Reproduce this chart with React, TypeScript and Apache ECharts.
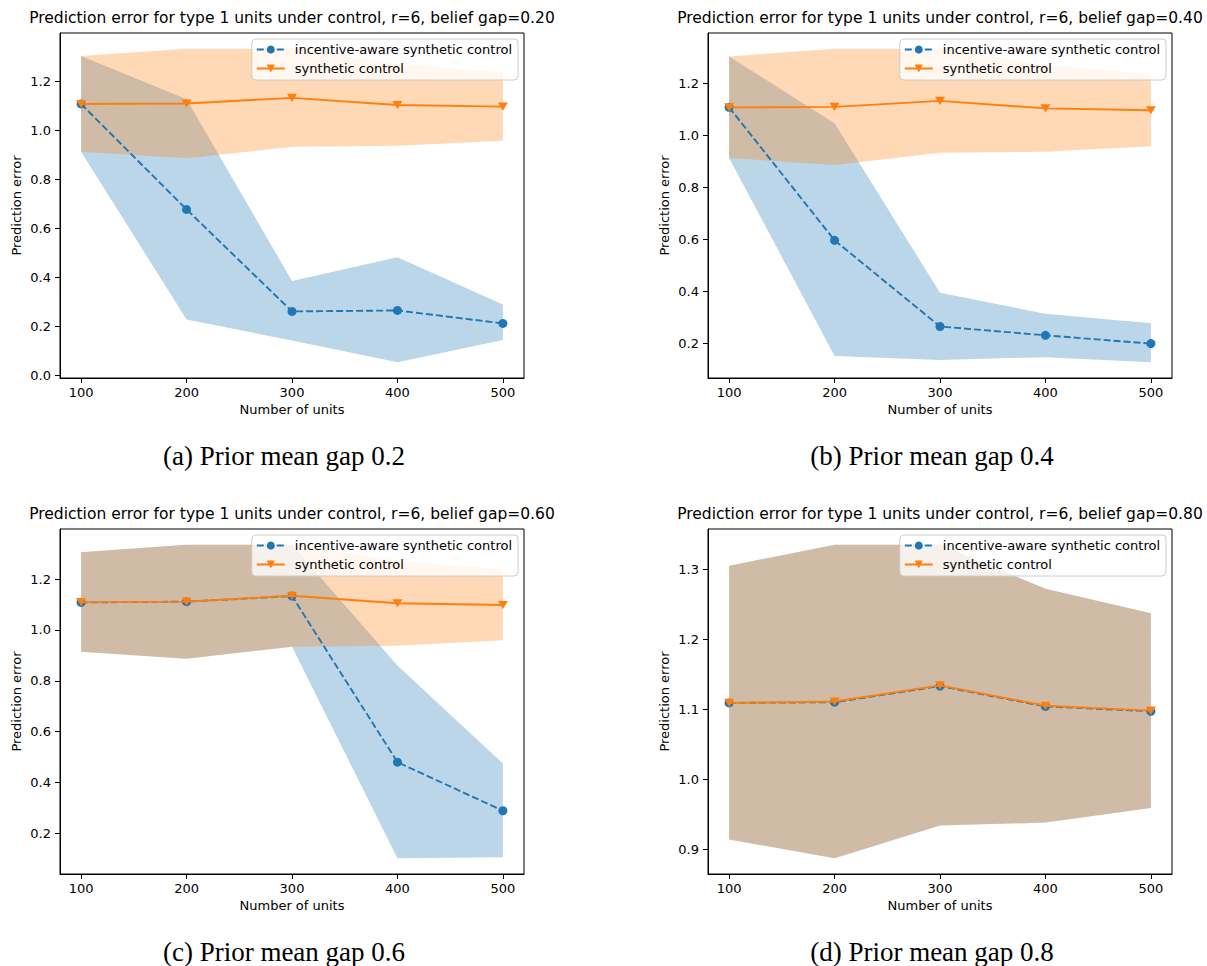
import React, { useEffect, useRef } from "react";
import * as echarts from "echarts";

const units = [100, 200, 300, 400, 500];
const xTicks = [100, 200, 300, 400, 500];

// synthetic control (same in all panels)
const scMean = [1.109, 1.111, 1.134, 1.105, 1.098];
const scLower = [0.914, 0.887, 0.934, 0.938, 0.959];
const scUpper = [1.305, 1.335, 1.335, 1.272, 1.237];

// incentive-aware synthetic control, per belief gap
const iaMeanA = [1.109, 0.678, 0.261, 0.265, 0.212];
const iaLowerA = [0.914, 0.228, 0.142, 0.053, 0.144];
const iaUpperA = [1.305, 1.128, 0.385, 0.482, 0.289];

const iaMeanB = [1.109, 0.597, 0.265, 0.231, 0.199];
const iaLowerB = [0.914, 0.151, 0.136, 0.147, 0.127];
const iaUpperB = [1.305, 1.048, 0.395, 0.314, 0.277];

const iaMeanC = [1.108, 1.111, 1.133, 0.48, 0.289];
const iaLowerC = [0.914, 0.887, 0.934, 0.102, 0.106];
const iaUpperC = [1.305, 1.335, 1.335, 0.86, 0.475];

const iaMeanD = [1.109, 1.110, 1.133, 1.104, 1.097];
const iaLowerD = [0.914, 0.887, 0.934, 0.938, 0.959];
const iaUpperD = [1.305, 1.335, 1.335, 1.272, 1.237];

const yTicksA = [0.0, 0.2, 0.4, 0.6, 0.8, 1.0, 1.2];
const yTicksB = [0.2, 0.4, 0.6, 0.8, 1.0, 1.2];
const yTicksC = [0.2, 0.4, 0.6, 0.8, 1.0, 1.2];
const yTicksD = [0.9, 1.0, 1.1, 1.2, 1.3];

const titles = [
  "Prediction error for type 1 units under control, r=6, belief gap=0.20",
  "Prediction error for type 1 units under control, r=6, belief gap=0.40",
  "Prediction error for type 1 units under control, r=6, belief gap=0.60",
  "Prediction error for type 1 units under control, r=6, belief gap=0.80",
];
const captions = [
  "(a) Prior mean gap 0.2",
  "(b) Prior mean gap 0.4",
  "(c) Prior mean gap 0.6",
  "(d) Prior mean gap 0.8",
];

const IA_NAME = "incentive-aware synthetic control";
const SC_NAME = "synthetic control";

const BLUE = "#1f77b4";
const ORANGE = "#ff7f0e";
const FONT = "DejaVu Sans";

const W = 1207;
const H = 966;

const panels = [
  { mean: iaMeanA, lower: iaLowerA, upper: iaUpperA, yTicks: yTicksA, dec: 1, left: 60, top: 33 },
  { mean: iaMeanB, lower: iaLowerB, upper: iaUpperB, yTicks: yTicksB, dec: 1, left: 708, top: 33 },
  { mean: iaMeanC, lower: iaLowerC, upper: iaUpperC, yTicks: yTicksC, dec: 1, left: 60, top: 529 },
  { mean: iaMeanD, lower: iaLowerD, upper: iaUpperD, yTicks: yTicksD, dec: 1, left: 708, top: 529 },
];
const GW = 464;
const GH = 345;

function bandSeries(gi: number, lower: number[], upper: number[], color: string) {
  return {
    type: "custom",
    xAxisIndex: gi,
    yAxisIndex: gi,
    silent: true,
    clip: true,
    data: units.map((u, i) => [u, lower[i], upper[i]]),
    encode: { x: 0, y: [1, 2] },
    renderItem: (params: any, api: any) => {
      if (params.dataIndex !== 0) return null;
      const top = units.map((u, i) => api.coord([u, upper[i]]));
      const bot = units.map((u, i) => api.coord([u, lower[i]])).reverse();
      return {
        type: "polygon",
        shape: { points: top.concat(bot) },
        style: { fill: color },
      };
    },
  };
}

const TRI = "path://M0,0 L10,0 L5,9 Z";

export default function App() {
  const ref = useRef<HTMLDivElement>(null);
  useEffect(() => {
    if (!ref.current) return;
    const chart = echarts.init(ref.current, undefined, { renderer: "svg" });
    const grids: any[] = [];
    const xAxes: any[] = [];
    const yAxes: any[] = [];
    const series: any[] = [];
    const legends: any[] = [];
    const graphics: any[] = [];

    panels.forEach((p, gi) => {
      const lo = Math.min(...p.lower, ...scLower);
      const hi = Math.max(...p.upper, ...scUpper);
      const span = hi - lo;
      const ymin = lo - 0.05 * span;
      const ymax = hi + 0.05 * span;
      grids.push({
        left: p.left,
        top: p.top,
        width: GW,
        height: GH,
        show: true,
        borderColor: "#000",
        borderWidth: 1,
        containLabel: false,
      });
      xAxes.push({
        type: "value",
        gridIndex: gi,
        min: 80,
        max: 520,
        splitLine: { show: false },
        axisLine: { show: true, onZero: false, lineStyle: { color: "#000", width: 1 } },
        axisTick: { show: true, customValues: xTicks, length: 5, lineStyle: { color: "#000" } },
        axisLabel: {
          customValues: xTicks,
          margin: 8,
          color: "#000",
          fontFamily: FONT,
          fontSize: 13,
        },
        name: "Number of units",
        nameLocation: "middle",
        nameGap: 25,
        nameTextStyle: { color: "#000", fontFamily: FONT, fontSize: 13 },
      });
      yAxes.push({
        type: "value",
        gridIndex: gi,
        min: ymin,
        max: ymax,
        splitLine: { show: false },
        axisLine: { show: true, onZero: false, lineStyle: { color: "#000", width: 1 } },
        axisTick: { show: true, customValues: p.yTicks, length: 5, lineStyle: { color: "#000" } },
        axisLabel: {
          customValues: p.yTicks,
          margin: 9,
          color: "#000",
          fontFamily: FONT,
          fontSize: 13,
          formatter: (v: number) => v.toFixed(p.dec),
        },
        name: "Prediction error",
        nameLocation: "middle",
        nameGap: 37,
        nameTextStyle: { color: "#000", fontFamily: FONT, fontSize: 13 },
      });

      series.push(bandSeries(gi, p.lower, p.upper, "rgba(31,119,180,0.3)"));
      series.push(bandSeries(gi, scLower, scUpper, "rgba(255,127,14,0.3)"));
      series.push({
        type: "line",
        name: IA_NAME,
        xAxisIndex: gi,
        yAxisIndex: gi,
        data: units.map((u, i) => [u, p.mean[i]]),
        symbol: "circle",
        symbolSize: 9,
        showSymbol: true,
        lineStyle: { color: BLUE, width: 1.9, type: [7, 3] },
        itemStyle: { color: BLUE },
        emphasis: { disabled: true },
        z: 3,
      });
      series.push({
        type: "line",
        name: SC_NAME,
        xAxisIndex: gi,
        yAxisIndex: gi,
        data: units.map((u, i) => [u, scMean[i]]),
        symbol: TRI,
        symbolSize: [10, 9],
        symbolKeepAspect: true,
        showSymbol: true,
        lineStyle: { color: ORANGE, width: 1.9, type: "solid" },
        itemStyle: { color: ORANGE },
        emphasis: { disabled: true },
        z: 4,
      });

      legends.push({
        data: [IA_NAME, SC_NAME],
        orient: "vertical",
        right: W - (p.left + GW - 6),
        top: p.top + 6,
        itemWidth: 28,
        itemHeight: 10,
        itemGap: 4,
        padding: [3, 6, 4, 4],
        backgroundColor: "rgba(255,255,255,0.8)",
        borderColor: "#cccccc",
        borderWidth: 1,
        borderRadius: 4,
        selectedMode: false,
        textStyle: {
          color: "#000",
          fontFamily: FONT,
          fontSize: 13,
          lineHeight: 15,
          padding: [0, 0, 0, 5],
        },
      });

      graphics.push({
        type: "text",
        x: p.left + GW / 2,
        y: p.top - 15,
        style: {
          text: titles[gi],
          fill: "#000",
          font: `15.5px "${FONT}"`,
          textAlign: "center",
          textVerticalAlign: "middle",
        },
      });
      graphics.push({
        type: "text",
        x: p.left + GW / 2 - 8,
        y: p.top + 423,
        style: {
          text: captions[gi],
          fill: "#000",
          font: `27px "Liberation Serif"`,
          textAlign: "center",
          textVerticalAlign: "middle",
        },
      });
    });

    chart.setOption({
      animation: false,
      backgroundColor: "#fff",
      grid: grids,
      xAxis: xAxes,
      yAxis: yAxes,
      legend: legends,
      series,
      graphic: graphics,
    });
    return () => chart.dispose();
  }, []);
  return (
    <div
      ref={ref}
      style={{ position: "absolute", left: 0, top: 0, width: W, height: H }}
    />
  );
}
